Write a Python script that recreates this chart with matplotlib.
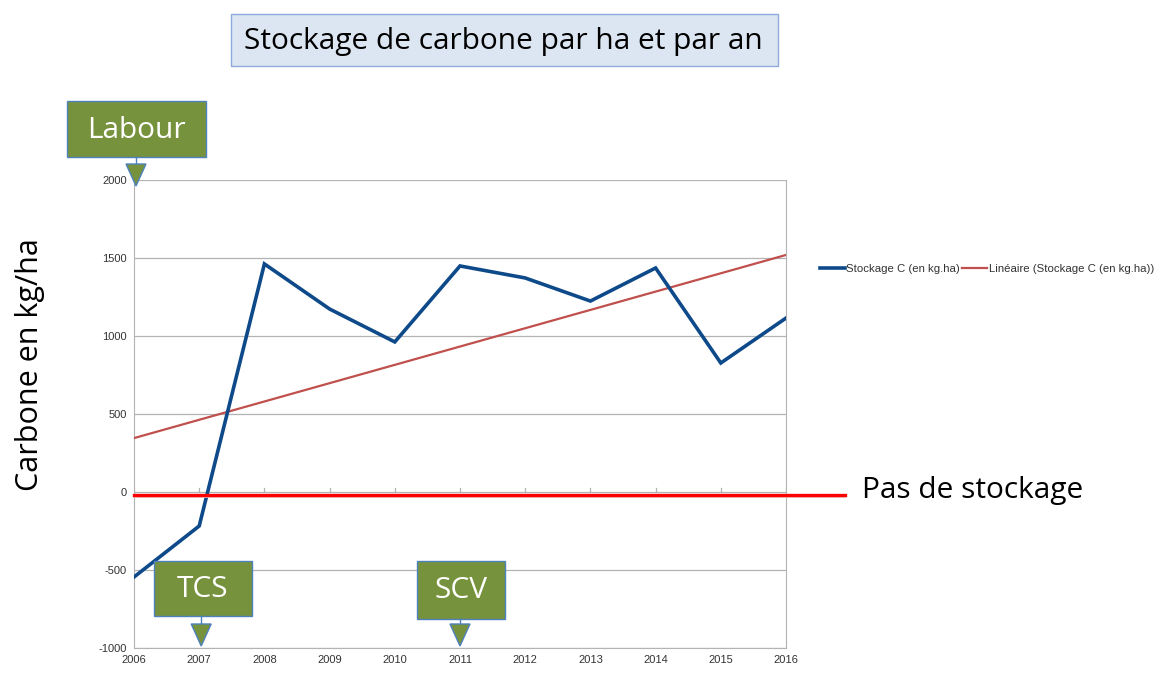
import matplotlib.pyplot as plt
from matplotlib.patches import FancyBboxPatch, Polygon
import numpy as np

plt.rcParams['axes.unicode_minus'] = False
plt.rcParams['font.family'] = ['Liberation Sans', 'DejaVu Sans']

years = [2006, 2007, 2008, 2009, 2010, 2011, 2012, 2013, 2014, 2015, 2016]
stockage = [-545, -218, 1462, 1173, 962, 1449, 1372, 1224, 1436, 827, 1115]
yticks = [-1000, -500, 0, 500, 1000, 1500, 2000]
serie_label = "Stockage C (en kg.ha)"
trend_label = "Linéaire (Stockage C (en kg.ha))"
title = "Stockage de carbone par ha et par an"
ylabel = "Carbone en kg/ha"
seuil = -20  # "Pas de stockage" line
markers = [("Labour", 2006, 2000), ("TCS", 2007, -1000), ("SCV", 2011, -1000)]

big_font = "Open Sans"
blue = '#0e4a8a'
red_trend = '#c0504d'
box_green = '#76923c'
box_edge = '#4f81bd'

fig = plt.figure(figsize=(11.65, 6.84), dpi=100)
ax = fig.add_axes([134/1165, 1-648/684, (786-134)/1165, (648-180)/684])

x = np.array(years)
y = np.array(stockage)
coef = np.polyfit(x, y, 1)

ax.plot(x, y, color=blue, lw=2.6, label=serie_label, zorder=4,
        solid_joinstyle='miter')
ax.plot(x, np.polyval(coef, x), color=red_trend, lw=1.6, label=trend_label,
        zorder=3)

# pas de stockage
ax.plot([2006, 2016 + 0.9], [seuil, seuil], color='#ff0000', lw=2.4,
        clip_on=False, zorder=5)
ax.plot([2006, 2016 + 0.9], [seuil - 12, seuil - 12], color='#e8c0c0', lw=1.2,
        clip_on=False, zorder=4.5)
ax.text(2016 + 1.17, 8, "Pas de stockage", fontsize=21.5, family=big_font,
        va='center', ha='left', color='black')

ax.set_xlim(2006, 2016)
ax.set_ylim(-1000, 2000)
ax.set_xticks(years)
ax.set_yticks(yticks)
ax.tick_params(axis='both', length=0, labelsize=8, colors='#333333', pad=5)
ax.grid(axis='y', color='#b3b3b3', lw=0.9)
ax.set_axisbelow(True)
for s in ['left', 'right', 'bottom']:
    ax.spines[s].set_color('#b3b3b3')
ax.spines['top'].set_visible(False)
# small ticks at zero line
for yr in years:
    ax.plot([yr, yr], [0, 25], color='#b3b3b3', lw=0.9, zorder=1)

fig.text(30/1165, 1-365/684, ylabel, rotation=90, fontsize=22, family=big_font,
         va='center', ha='center')

# title box
fig.patches.append(FancyBboxPatch((231/1165, 1-66/684), (778-231)/1165, 52/684,
                                  boxstyle='square,pad=0', transform=fig.transFigure,
                                  facecolor='#dce6f2', edgecolor='#8eaadb', lw=1))
fig.text(503/1165, 1-41/684, title, fontsize=21.5, family=big_font,
         ha='center', va='center')

# marker boxes
box_specs = {"Labour": (67, 101, 139, 56), "TCS": (154, 561, 98, 55),
             "SCV": (417, 561, 88, 58)}
for name, xv, yv in markers:
    bx, by, bw, bh = box_specs[name]
    fig.patches.append(FancyBboxPatch((bx/1165, 1-(by+bh)/684), bw/1165, bh/684,
                                      boxstyle='square,pad=0', transform=fig.transFigure,
                                      facecolor=box_green, edgecolor=box_edge, lw=1))
    fig.text((bx+bw/2)/1165, 1-(by+bh/2+1)/684, name, fontsize=21.5, family=big_font,
             color='white', ha='center', va='center')
    # arrow to axis point
    px, py = ax.transData.transform((xv, yv))
    px = px + 2 if name != "SCV" else px
    px_top = 684 - py
    tri_top = px_top - 16 if name == "Labour" else px_top - 24
    fig.lines.append(plt.Line2D([px/1165, px/1165],
                                [1-(by+bh)/684, 1-tri_top/684],
                                transform=fig.transFigure, color=box_edge, lw=1))
    tri = Polygon([[(px-10)/1165, 1-tri_top/684], [(px+10)/1165, 1-tri_top/684],
                   [px/1165, 1-(tri_top+22)/684]], closed=True,
                  transform=fig.transFigure, facecolor=box_green,
                  edgecolor=box_edge, lw=1, zorder=6)
    fig.patches.append(tri)

fig.legend(loc='center left', bbox_to_anchor=(814/1165, 1-269/684), ncol=2,
           frameon=False, fontsize=8.2, labelcolor='#333333', handlelength=2.2,
           handletextpad=0.15, columnspacing=0.15, borderpad=0)

fig.savefig('out.png', dpi=100)
